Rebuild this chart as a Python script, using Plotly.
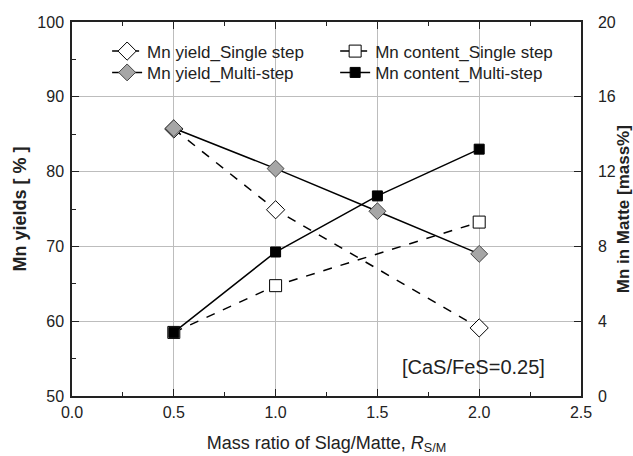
import plotly.graph_objects as go

ratio_single = [0.5, 1.0, 2.0]
ratio_multi = [0.5, 1.0, 1.5, 2.0]
yield_single = [85.7, 74.9, 59.1]
yield_multi = [85.8, 80.4, 74.7, 69.0]
content_single = [3.4, 5.9, 9.3]
content_multi = [3.4, 7.7, 10.7, 13.2]

font = "Liberation Sans, Arial, sans-serif"
fig = go.Figure()

fig.add_trace(go.Scatter(
    x=ratio_single, y=yield_single, name="Mn yield_Single step", mode="lines+markers", legend="legend",
    line=dict(color="black", width=1.5, dash="dash"),
    marker=dict(symbol="diamond", size=14, color="white", line=dict(color="black", width=1))))
fig.add_trace(go.Scatter(
    x=ratio_multi, y=yield_multi, name="Mn yield_Multi-step", mode="lines+markers", legend="legend2",
    line=dict(color="black", width=1.5),
    marker=dict(symbol="diamond", size=13, color="#a6a6a6", line=dict(color="#444", width=1))))
fig.add_trace(go.Scatter(
    x=ratio_single, y=content_single, name="Mn content_Single step", mode="lines+markers", yaxis="y2",
    legend="legend3",
    line=dict(color="black", width=1.5, dash="dash"),
    marker=dict(symbol="square", size=12, color="white", line=dict(color="black", width=1))))
fig.add_trace(go.Scatter(
    x=ratio_multi, y=content_multi, name="Mn content_Multi-step", mode="lines+markers", yaxis="y2",
    legend="legend4",
    line=dict(color="black", width=1.5),
    marker=dict(symbol="square", size=10, color="black", line=dict(color="black", width=1))))

fig.add_annotation(x=0.933, y=0.078, xref="paper", yref="paper", xanchor="right", yanchor="middle",
                   text="[CaS/FeS=0.25]", showarrow=False, font=dict(family=font, size=20, color="#222"))
fig.add_annotation(x=1.083, y=0.5, xref="paper", yref="paper", xanchor="center", yanchor="middle",
                   text="<b>Mn in Matte [mass%]</b>", textangle=-90, showarrow=False,
                   font=dict(family=font, size=17, color="#222"))

legend_common = dict(orientation="v", yanchor="middle", xanchor="left", tracegroupgap=0,
                     bgcolor="rgba(0,0,0,0)", font=dict(family=font, size=17, color="#222"))

fig.update_layout(
    width=633, height=456,
    margin=dict(l=72, r=52, t=22, b=60, autoexpand=False),
    paper_bgcolor="white", plot_bgcolor="white",
    font=dict(family=font, size=16, color="#222"),
    showlegend=True,
    legend=dict(x=0.069, y=0.921, **legend_common),
    legend2=dict(x=0.069, y=0.864, **legend_common),
    legend3=dict(x=0.517, y=0.921, **legend_common),
    legend4=dict(x=0.517, y=0.864, **legend_common),
    xaxis=dict(range=[0, 2.5], dtick=0.5, tickformat=".1f", showline=True, linecolor="#222", linewidth=1.5,
               mirror="ticks", ticks="inside", ticklen=7, tickcolor="#222", ticklabelstandoff=1,
               minor=dict(dtick=0.25, ticks="inside", ticklen=4, tickcolor="#222", showgrid=False),
               showgrid=True, gridcolor="#bdbdbd", gridwidth=1, zeroline=False, automargin=False,
               tickfont=dict(size=16),
               title=dict(text="Mass ratio of Slag/Matte, <i>R</i><sub>S/M</sub>", font=dict(size=18), standoff=16)),
    yaxis=dict(range=[50, 100], dtick=10, showline=True, linecolor="#222", linewidth=1.5, mirror=False,
               ticks="inside", ticklen=7, tickcolor="#222", ticklabelstandoff=3, automargin=False,
               minor=dict(dtick=5, ticks="inside", ticklen=4, tickcolor="#222", showgrid=False),
               showgrid=True, gridcolor="#bdbdbd", gridwidth=1, zeroline=False,
               tickfont=dict(size=16),
               title=dict(text="<b>Mn yields [ % ]</b>", font=dict(size=18), standoff=6)),
    yaxis2=dict(range=[0, 20], dtick=4, overlaying="y", side="right", showline=True, linecolor="#222", linewidth=1.5,
                ticks="inside", ticklen=7, tickcolor="#222", showgrid=False, zeroline=False, automargin=False,
                ticklabelstandoff=12, tickfont=dict(size=16)),
)

fig.write_html("out.html", config={"displayModeBar": False},
               post_script="document.body.style.margin='0';document.body.style.overflow='hidden';")
